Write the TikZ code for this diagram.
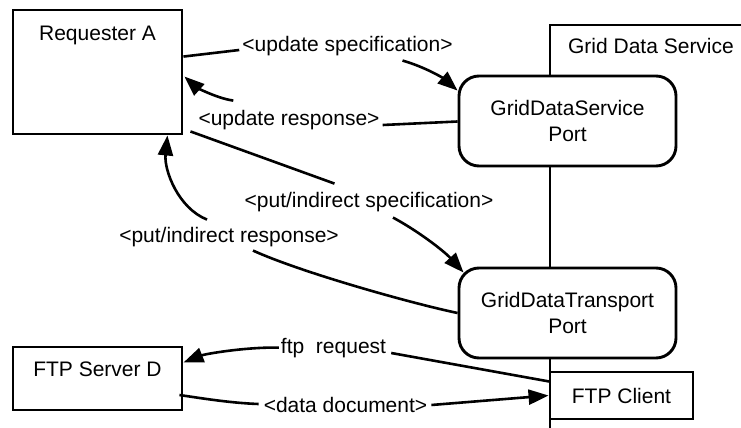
\documentclass[tikz,border=0pt]{standalone}
\usepackage{fontspec}
\setmainfont{Liberation Sans}
\usetikzlibrary{arrows.meta,calc}
\begin{document}
\begin{tikzpicture}[x=1pt,y=-1pt,
  every node/.style={font=\fontsize{21}{25.5}\selectfont},
  box/.style={draw, line width=2.9pt, fill=white, inner sep=0pt},
  port/.style={box, rounded corners=20pt, align=center, minimum width=217pt, minimum height=90pt},
  txt/.style={inner sep=0pt, anchor=base},
  conn/.style={line width=2.6pt},
  arr/.style={conn, -{Triangle[length=20pt,width=15pt]}}]
\useasboundingbox (0,0) rectangle (741,428);
% Grid Data Service frame
\draw[line width=2.9pt] (550,428) -- (550,25) -- (741,25);
% nodes
\node[box, minimum width=169pt, minimum height=124pt] (A) at (97.5,72) {};
\node[txt] (Atext) at (97.5,41) {Requester A};
\node[txt] (GDS) at (651,54) {Grid Data Service};
\node[port] (P1) at (567.5,121) {GridDataService\\Port};
\node[port] (P2) at (567.5,313) {GridDataTransport\\Port};
\node[box, minimum width=143pt, minimum height=47pt] (FC) at (621.5,395.5) {FTP Client};
\node[box, minimum width=169pt, minimum height=63pt] (FS) at (97.5,378.5) {};
\node[txt] (FStext) at (97.5,376) {FTP Server D};
% labels
\node[txt] (L1) at (347.5,52) {<update specification>};
\node[txt] (L2) at (289,125) {<update response>};
\node[txt] (L3) at (369,207) {<put/indirect specification>};
\node[txt] (L4) at (229,242) {<put/indirect response>};
\node[txt] (L5) at (333.5,353) {ftp\ \ request};
\node[txt] (L6) at (345.5,412) {<data document>};
% connectors
\draw[conn] ($(A.north east)+(0,48)$) -- ($(L1.base west)+(-3,-2)$);
\draw[arr] ($(L1.south)+(55,4)$) .. controls (425,67) and (443,78) .. ($(P1.north west)+(0,16)$);
\draw[conn] ($(P1.west)+(0,0.5)$) -- ($(L2.base east)+(3,0)$);
\draw[arr] ($(L2.north west)+(35,-9)$) .. controls (215,98) and (195,86) .. ($(A.north east)+(1,68)$);
\draw[conn] ($(A.south east)+(7,-4)$) -- ($(L3.north west)+(90,-8)$);
\draw[arr] ($(L3.south)+(24,6)$) .. controls (418,231) and (444,251) .. ($(P2.north west)+(6,6)$);
\draw[conn] (P2.west) .. controls (410,303) and (300,272) .. ($(L4.south)+(24,4)$);
\draw[arr] ($(L4.north)+(-22,-7)$) .. controls (178,208) and (164,170) .. ($(A.south east)+(-16,0)$);
\draw[conn] ($(FC.north west)+(1,11)$) -- ($(L5.base east)+(5,0)$);
\draw[arr] ($(L5.west)+(-2,0)$) .. controls (245,347) and (205,354) .. ($(FS.north east)+(0,17)$);
\draw[conn] ($(FS.east)+(-4,16.5)$) .. controls (200,398) and (230,403) .. ($(L6.base west)+(-5,-8)$);
\draw[arr] ($(L6.base east)+(4,-7)$) -- (FC.west);
\end{tikzpicture}
\end{document}
